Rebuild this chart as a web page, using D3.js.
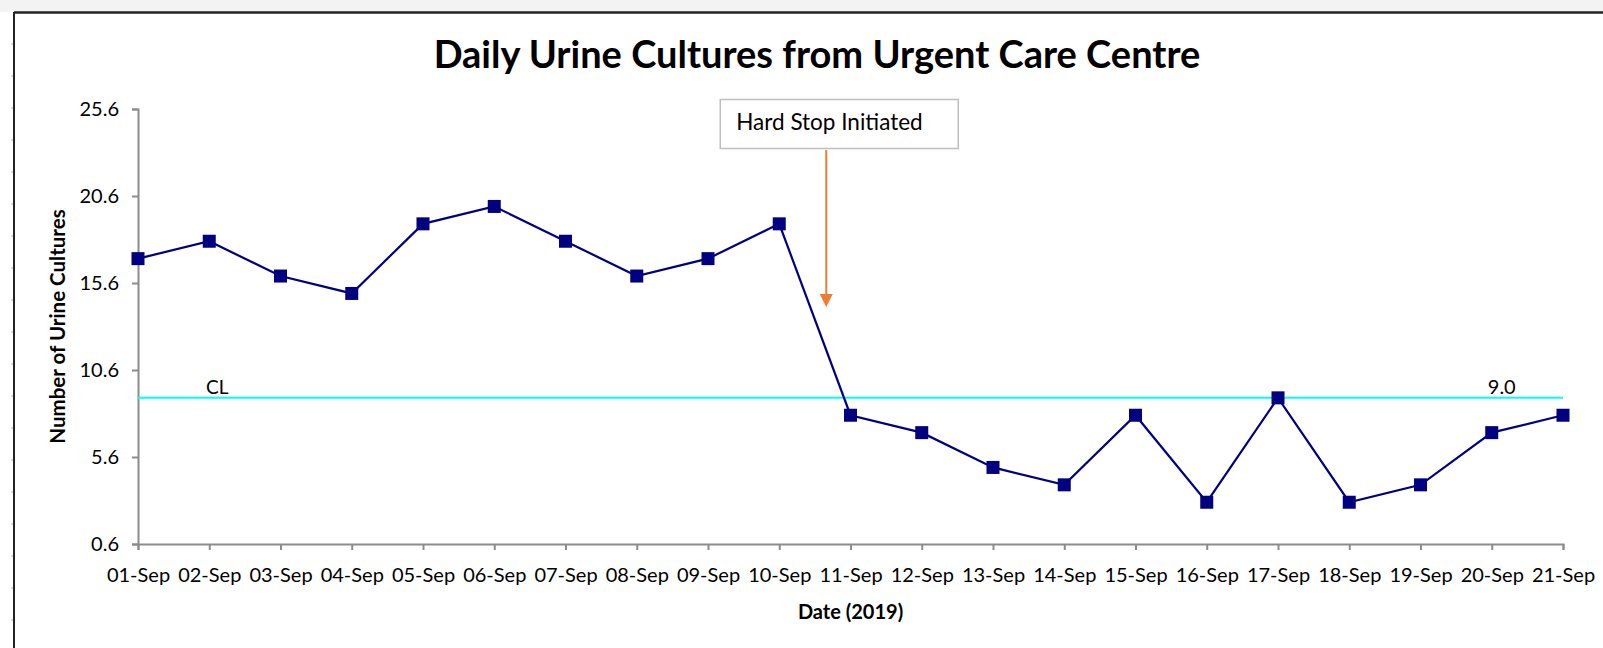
<!DOCTYPE html>
<html>
<head>
<meta charset="utf-8">
<script src="https://cdn.jsdelivr.net/npm/d3@7"></script>
<style>
  body { margin: 0; background: #fff; }
  svg { display: block; font-family: Lato, "Open Sans", sans-serif; }
</style>
</head>
<body>
<div id="chart"></div>
<script>
// data
var dates = ["01-Sep","02-Sep","03-Sep","04-Sep","05-Sep","06-Sep","07-Sep","08-Sep","09-Sep","10-Sep",
             "11-Sep","12-Sep","13-Sep","14-Sep","15-Sep","16-Sep","17-Sep","18-Sep","19-Sep","20-Sep","21-Sep"];
var cultures = [17, 18, 16, 15, 19, 20, 18, 16, 17, 19, 8, 7, 5, 4, 8, 3, 9, 3, 4, 7, 8];
var yTicks = [0.6, 5.6, 10.6, 15.6, 20.6, 25.6];
var centreLine = d3.median(cultures); // 9.0
var hardStopAt = 9.66; // between 10-Sep and 11-Sep

var W = 1603, H = 648;
var margin = {left: 138, right: 40, top: 109, bottom: 104};

var svg = d3.select("#chart").append("svg")
    .attr("width", W)
    .attr("height", H);

// spreadsheet frame behind the chart
svg.append("rect").attr("x", 0).attr("y", 0).attr("width", W).attr("height", 12).style("fill", "#f3f3f3");
svg.append("line").attr("x1", 14).attr("x2", W).attr("y1", 12.5).attr("y2", 12.5)
    .style("stroke", "#222").style("stroke-width", 2.5);
svg.append("line").attr("x1", 14).attr("x2", 14).attr("y1", 12).attr("y2", H)
    .style("stroke", "#222").style("stroke-width", 2);
d3.range(44, H, 32).forEach(function(y){
  svg.append("line").attr("x1", 11).attr("x2", 13).attr("y1", y).attr("y2", y)
      .style("stroke", "#bbb").style("stroke-width", 1);
});

var x = d3.scalePoint()
    .domain(dates)
    .range([margin.left, W - margin.right]);

var y = d3.scaleLinear()
    .domain([0.6, 25.6])
    .range([H - margin.bottom, margin.top]);

// axes
var yAxis = svg.append("g")
    .attr("transform", "translate(" + margin.left + ",0)")
    .call(d3.axisLeft(y).tickValues(yTicks).tickFormat(d3.format(".1f")).tickSize(6).tickPadding(13));

var xAxis = svg.append("g")
    .attr("transform", "translate(0," + (H - margin.bottom) + ")")
    .call(d3.axisBottom(x).tickSize(6).tickPadding(18));

[xAxis, yAxis].forEach(function(a){
  a.select(".domain").style("stroke", "#8c8c8c").style("stroke-width", 2);
  a.selectAll(".tick line").style("stroke", "#8c8c8c").style("stroke-width", 2);
  a.selectAll(".tick text").style("font-size", "20px").style("fill", "#000")
      .style("font-family", "Lato, sans-serif");
});

// centre line
svg.append("line")
    .attr("x1", x(dates[0])).attr("x2", x(dates[dates.length - 1]))
    .attr("y1", y(centreLine)).attr("y2", y(centreLine))
    .style("stroke", "#00ffff").style("stroke-width", 2);

svg.append("text")
    .attr("x", x(dates[1]) + 8).attr("y", y(centreLine) - 4)
    .attr("text-anchor", "middle")
    .style("font-size", "19px").style("fill", "#000")
    .text("CL");

svg.append("text")
    .attr("x", x(dates[19]) + 10).attr("y", y(centreLine) - 4)
    .attr("text-anchor", "middle")
    .style("font-size", "20px").style("fill", "#000")
    .text(d3.format(".1f")(centreLine));

// series
var line = d3.line()
    .x(function(d, i){ return x(dates[i]); })
    .y(function(d){ return y(d); });

svg.append("path")
    .datum(cultures)
    .attr("d", line)
    .style("fill", "none")
    .style("stroke", "#000080")
    .style("stroke-width", 2.2);

var ms = 13;
svg.selectAll("rect.marker")
    .data(cultures)
    .enter().append("rect")
    .attr("class", "marker")
    .attr("x", function(d, i){ return x(dates[i]) - ms / 2; })
    .attr("y", function(d){ return y(d) - ms / 2; })
    .attr("width", ms)
    .attr("height", ms)
    .style("fill", "#000080");

// hard stop annotation
var step = x.step();
var ax = x(dates[0]) + hardStopAt * step;

svg.append("rect")
    .attr("x", ax - 106).attr("y", 99.5)
    .attr("width", 238).attr("height", 49)
    .style("fill", "#fff").style("stroke", "#bfbfbf").style("stroke-width", 1.5);

svg.append("text")
    .attr("x", ax - 90).attr("y", 130)
    .style("font-size", "22.5px").style("fill", "#000")
    .text("Hard Stop Initiated");

svg.append("line")
    .attr("x1", ax).attr("x2", ax)
    .attr("y1", 150).attr("y2", 296)
    .style("stroke", "#ed7d31").style("stroke-width", 2);

svg.append("path")
    .attr("d", "M" + (ax - 6.5) + ",294L" + (ax + 6.5) + ",294L" + ax + ",307Z")
    .style("fill", "#ed7d31");

// titles
svg.append("text")
    .attr("x", 817).attr("y", 68)
    .attr("text-anchor", "middle")
    .style("font-size", "38px").style("font-weight", "bold").style("fill", "#000")
    .text("Daily Urine Cultures from Urgent Care Centre");

svg.append("text")
    .attr("x", (x.range()[0] + x.range()[1]) / 2).attr("y", 619)
    .attr("text-anchor", "middle")
    .style("font-size", "20px").style("font-weight", "bold").style("fill", "#000")
    .text("Date (2019)");

svg.append("text")
    .attr("transform", "translate(65," + ((y.range()[0] + y.range()[1]) / 2) + ") rotate(-90)")
    .attr("text-anchor", "middle")
    .style("font-size", "20.5px").style("font-weight", "bold").style("fill", "#000")
    .text("Number of Urine Cultures");
</script>
</body>
</html>
